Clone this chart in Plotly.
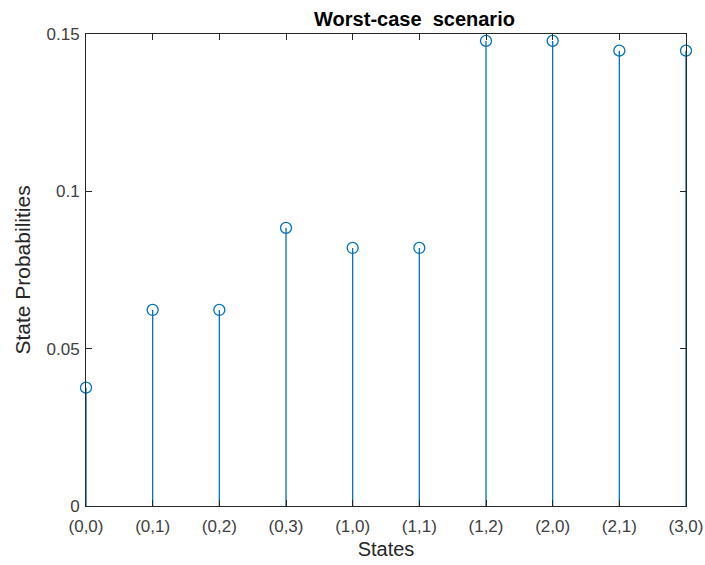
import plotly.graph_objects as go

states = ["(0,0)", "(0,1)", "(0,2)", "(0,3)", "(1,0)", "(1,1)", "(1,2)", "(2,0)", "(2,1)", "(3,0)"]
probs = [0.0376, 0.0623, 0.0623, 0.0884, 0.0820, 0.0820, 0.1478, 0.1478, 0.1447, 0.1447]
y_ticks = [0, 0.05, 0.1, 0.15]
y_ticktext = ["0", "0.05", "0.1", "0.15"]

idx = list(range(1, len(states) + 1))
blue = "#0072BD"

sx, sy = [], []
for i, p in zip(idx, probs):
    sx += [i, i, None]
    sy += [0, p, None]

fig = go.Figure()
fig.add_trace(go.Scatter(x=sx, y=sy, mode="lines", line=dict(color=blue, width=1.3),
                         hoverinfo="skip", showlegend=False, cliponaxis=False))
fig.add_trace(go.Scatter(x=idx, y=probs, mode="markers", cliponaxis=False,
                         marker=dict(symbol="circle-open", size=11, color=blue, line=dict(width=1.3)),
                         showlegend=False))

fam = "Liberation Sans, Arial"
tick_font = dict(family=fam, size=17, color="#404040")
lab_font = dict(family=fam, size=20, color="#262626")
W, H = 705, 565
L, R, T, B = 86, 19, 34, 59
fig.update_layout(
    width=W, height=H,
    margin=dict(l=L, r=R, t=T, b=B, autoexpand=False),
    paper_bgcolor="white", plot_bgcolor="white",
    title=dict(text="<b>Worst-case  scenario</b>", x=(L + (W - L - R) / 2) / W,
               xanchor="center", y=1 - 19 / H, yanchor="middle", xref="paper",
               font=dict(family=fam, size=20, color="black")),
    xaxis=dict(range=[1, 10], tickmode="array", tickvals=idx, ticktext=states,
               ticks="inside", ticklen=6, tickcolor="#262626", showline=True, linecolor="#262626",
               linewidth=1, mirror="ticks", showgrid=False, zeroline=False, tickfont=tick_font,
               ticklabelstandoff=5, ticklabeloverflow="allow",
               automargin=False, title=dict(text="States", font=lab_font, standoff=6)),
    yaxis=dict(range=[0, 0.15], tickmode="array", tickvals=y_ticks, ticktext=y_ticktext,
               ticks="inside", ticklen=6, tickcolor="#262626", showline=True, linecolor="#262626",
               linewidth=1, mirror="ticks", showgrid=False, zeroline=False,
               tickfont=dict(family=fam, size=17, color="#404040"),
               ticklabelstandoff=2,
               automargin=False, title=dict(text="State Probabilities", font=dict(family=fam, size=21, color="#262626"), standoff=10)),
)
fig.write_html("out.html", config={"displayModeBar": False},
               post_script="document.body.style.margin='0';document.body.style.overflow='hidden';")
